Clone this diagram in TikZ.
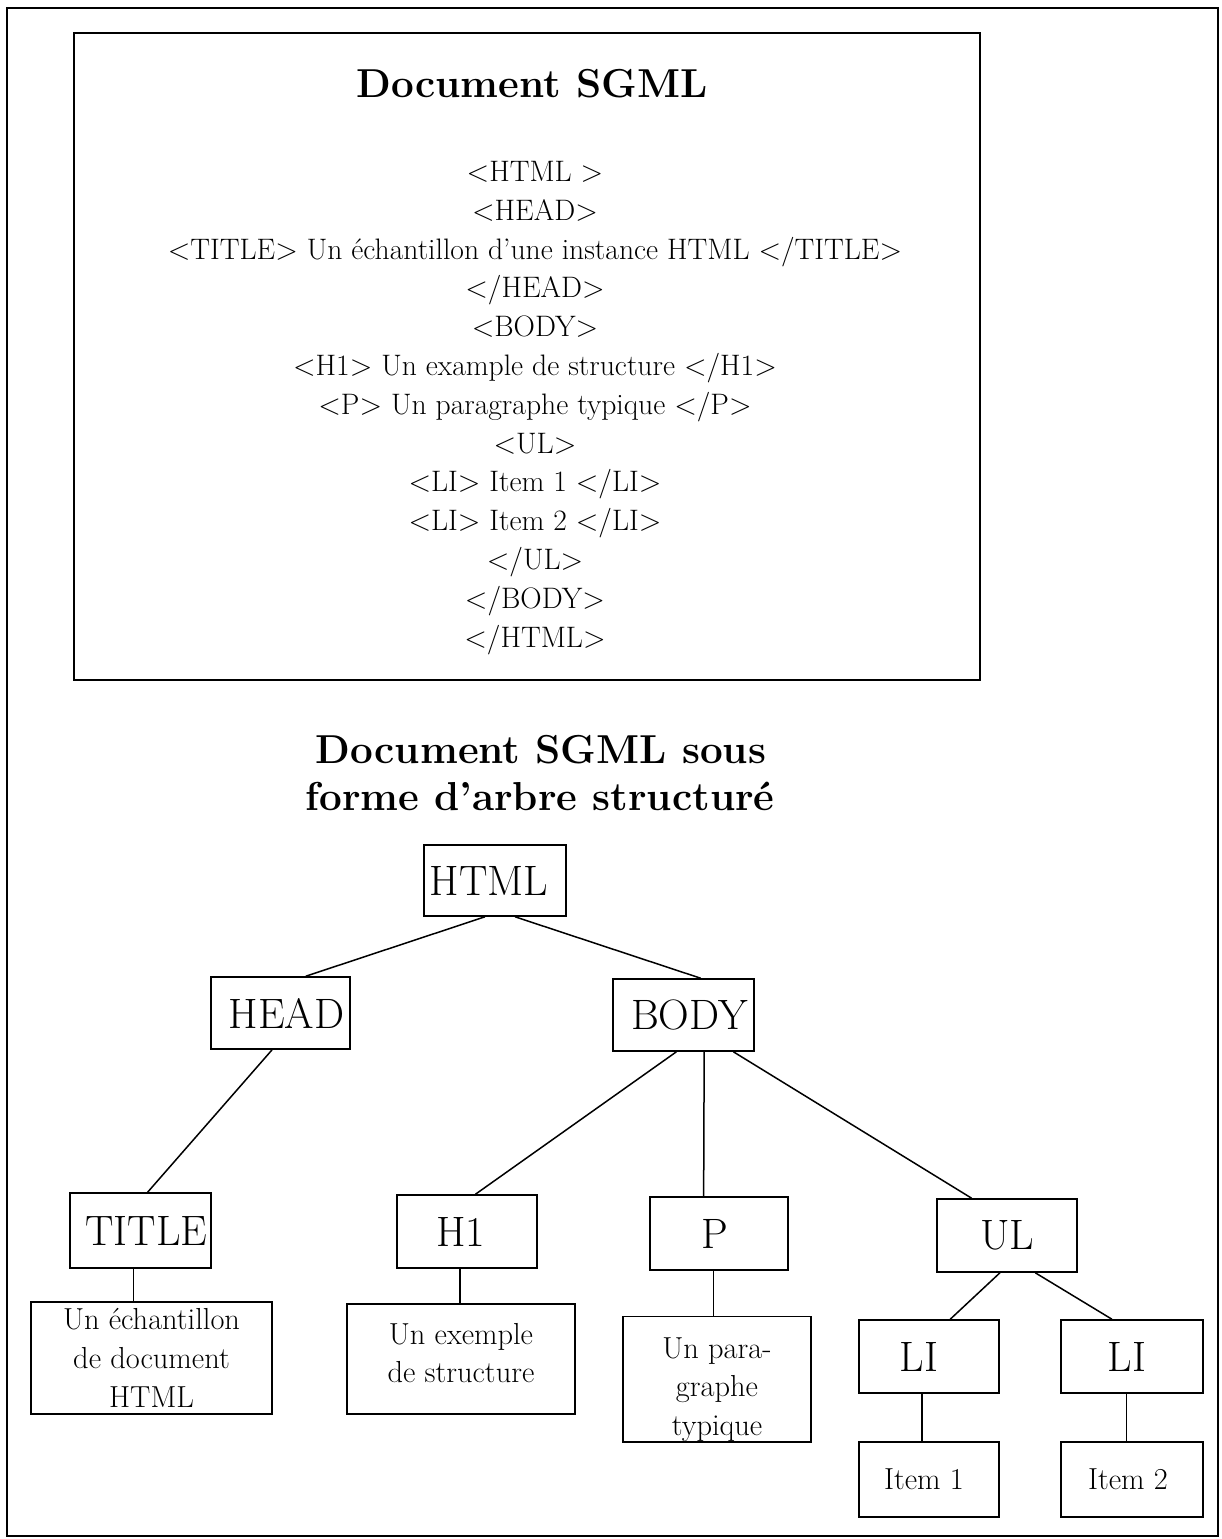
\documentclass[tikz,border=0pt]{standalone}
\usetikzlibrary{calc}
\tikzset{
  frame/.style={draw, line width=1.5pt},
  tag/.style={draw, line width=1.6pt, inner sep=0pt, font=\fontsize{42.5}{50}\selectfont},
  leaf/.style={draw, line width=1.6pt, inner sep=0pt, align=center, font=\fontsize{30.4}{38.6}\selectfont},
  link/.style={line width=1.5pt},
  codeline/.style={inner sep=0pt, anchor=base, font=\fontsize{29.6}{38.8}\selectfont},
  heading/.style={inner sep=0pt, anchor=base, font=\fontsize{40.4}{48}\bfseries\selectfont}
}
\begin{document}
\begin{tikzpicture}[x=1pt,y=-1pt]
\useasboundingbox (0,0) rectangle (1222,1539);

% outer frame and the source-code panel
\draw[frame] (7,8) rectangle (1218,1536);
\draw[frame] (74,33) rectangle (980,680);

\node[heading] (srctitle) at (532,97) {Document SGML};
\foreach \t [count=\i from 0] in {
  <HTML >,
  <HEAD>,
  <TITLE> Un échantillon d'une instance HTML </TITLE>,
  </HEAD>,
  <BODY>,
  <H1> Un example de structure </H1>,
  <P> Un paragraphe typique </P>,
  <UL>,
  <LI> Item 1 </LI>,
  <LI> Item 2 </LI>,
  </UL>,
  </BODY>,
  </HTML>}
  \node[codeline] (code\i) at (535,{181.5+38.8*\i}) {\t};

% tree heading
\node[heading] (treetitlea) at (541,763) {Document SGML sous};
\node[heading] (treetitleb) at (540,810) {forme d'arbre structuré};

% tree nodes (the \hspace* pads nudge a label off the box centre)
\node[tag, minimum width=142pt, minimum height=71pt] (html) at (495,880.5) {HTML\hspace*{12pt}};
\node[tag, minimum width=139pt, minimum height=72pt] (head) at (280.5,1013) {\hspace*{12pt}HEAD};
\node[tag, minimum width=141pt, minimum height=72pt] (body) at (683.5,1015) {\hspace*{12pt}BODY};
\node[tag, minimum width=141pt, minimum height=75pt] (title) at (140.5,1230.5) {\hspace*{12pt}TITLE};
\node[tag, minimum width=140pt, minimum height=73pt] (hone) at (467,1231.5) {H1\hspace*{12pt}};
\node[tag, minimum width=138pt, minimum height=73pt] (para) at (719,1233.5) {P\hspace*{8pt}};
\node[tag, minimum width=140pt, minimum height=73pt] (ul) at (1007,1235.5) {UL};
\node[tag, minimum width=140pt, minimum height=73pt] (lia) at (929,1356.5) {LI\hspace*{20pt}};
\node[tag, minimum width=142pt, minimum height=73pt] (lib) at (1132,1356.5) {LI\hspace*{10pt}};

% leaf contents
\node[leaf, minimum width=241pt, minimum height=112pt] (titletxt) at (151.5,1358) {Un échantillon\\de document\\HTML};
\node[leaf, minimum width=228pt, minimum height=110pt] (honetxt) at (461,1359) {Un exemple\\de structure\rule[-12pt]{0pt}{0pt}};
\node[leaf, minimum width=188pt, minimum height=122pt] (paratxt) at (717,1379) {\rule{0pt}{42pt}Un para-\\graphe\\typique};
\node[leaf, minimum width=140pt, minimum height=75pt] (itema) at (929,1479.5) {Item 1\hspace*{10pt}};
\node[leaf, minimum width=142pt, minimum height=75pt] (itemb) at (1132,1479.5) {Item 2\hspace*{8pt}};

% connectors
\draw[link] ($(html.south west)!0.43!(html.south east)$) -- ($(head.north west)!0.68!(head.north east)$);
\draw[link] ($(html.south west)!0.64!(html.south east)$) -- ($(body.north west)!0.62!(body.north east)$);
\draw[link] ($(head.south west)!0.44!(head.south east)$) -- ($(title.north west)!0.55!(title.north east)$);
\draw[link] ($(body.south west)!0.45!(body.south east)$) -- ($(hone.north west)!0.56!(hone.north east)$);
\draw[link] ($(body.south west)!0.645!(body.south east)$) -- ($(para.north west)!0.39!(para.north east)$);
\draw[link] ($(body.south west)!0.85!(body.south east)$) -- ($(ul.north west)!0.25!(ul.north east)$);
\draw[link] ($(ul.south west)!0.45!(ul.south east)$) -- ($(lia.north west)!0.65!(lia.north east)$);
\draw[link] ($(ul.south west)!0.70!(ul.south east)$) -- ($(lib.north west)!0.36!(lib.north east)$);

\coordinate (tv) at ($(title.south west)!0.45!(title.south east)$);
\draw[link] (tv) -- (tv |- titletxt.north);
\coordinate (hv) at ($(hone.south west)!0.45!(hone.south east)$);
\draw[link] (hv) -- (hv |- honetxt.north);
\coordinate (pv) at ($(para.south west)!0.46!(para.south east)$);
\draw[link] (pv) -- (pv |- paratxt.north);
\coordinate (av) at ($(lia.south west)!0.45!(lia.south east)$);
\draw[link] (av) -- (av |- itema.north);
\coordinate (bv) at ($(lib.south west)!0.46!(lib.south east)$);
\draw[link] (bv) -- (bv |- itemb.north);
\end{tikzpicture}
\end{document}
